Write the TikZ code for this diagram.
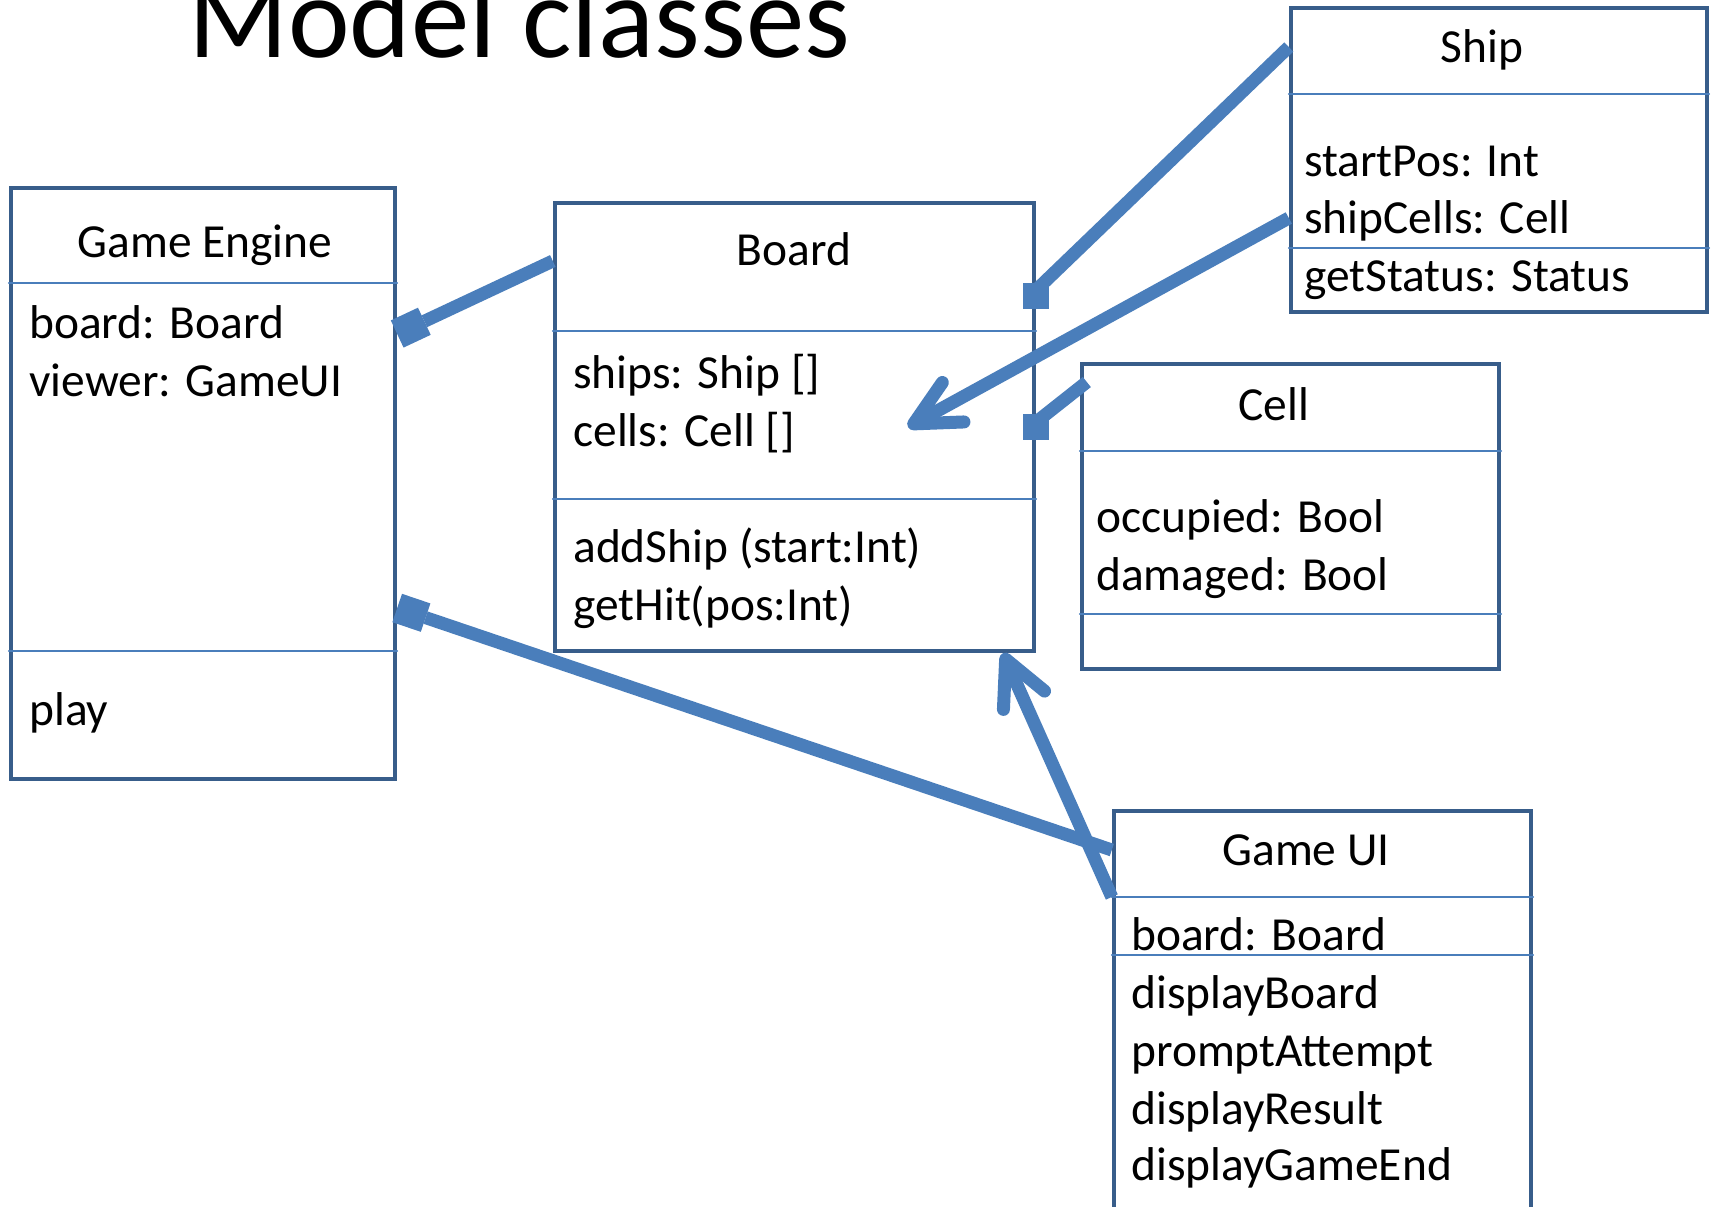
\documentclass[tikz,border=0pt]{standalone}
\usepackage{fontspec}
\setmainfont{Carlito}
\usetikzlibrary{arrows.meta,fit}

\definecolor{boxline}{HTML}{385D8A}
\definecolor{linkblue}{HTML}{4A7EBB}

\begin{document}
\begin{tikzpicture}[x=0.02cm,y=-0.02cm,line cap=round,line join=round,
    umlbox/.style={draw=boxline,line width=2.5pt,inner sep=0pt,line join=miter},
    divider/.style={draw=linkblue,line width=1.1pt},
    head/.style={anchor=base,inner sep=0pt,font=\fontsize{27pt}{33pt}\selectfont},
    member/.style={anchor=base west,inner sep=0pt,font=\fontsize{27pt}{33pt}\selectfont},
    assoc/.style={draw=linkblue,line width=7.4pt,line cap=butt},
    owner/.style={-{Square[length=0.6cm,width=0.6cm,line width=0pt]}},
    uses/.style={-{Straight Barb[length=0.9cm,width=0.9cm,round]}}]
  \clip (0,0) rectangle (1711,1207);

  \node[anchor=base west,inner sep=0pt,font=\fontsize{66.5pt}{80pt}\selectfont] (title) at (188,57) {Model classes};

  % class boxes
  \node[umlbox,fit={(11,188) (395,779)}] (engine) {};
  \node[umlbox,fit={(555,203) (1034,651)}] (board) {};
  \node[umlbox,fit={(1291,8) (1707,312)}] (ship) {};
  \node[umlbox,fit={(1082,364) (1499,669)}] (cell) {};
  \node[umlbox,fit={(1114,811) (1531,1240)}] (gameui) {};

  % compartments
  \draw[divider] (engine.west |- 0,283) -- (engine.east |- 0,283);
  \draw[divider] (engine.west |- 0,651) -- (engine.east |- 0,651);
  \draw[divider] (board.west |- 0,331) -- (board.east |- 0,331);
  \draw[divider] (board.west |- 0,499) -- (board.east |- 0,499);
  \draw[divider] (ship.west |- 0,94) -- (ship.east |- 0,94);
  \draw[divider] (ship.west |- 0,248) -- (ship.east |- 0,248);
  \draw[divider] (cell.west |- 0,451) -- (cell.east |- 0,451);
  \draw[divider] (cell.west |- 0,614) -- (cell.east |- 0,614);
  \draw[divider] (gameui.west |- 0,897) -- (gameui.east |- 0,897);
  \draw[divider] (gameui.west |- 0,955) -- (gameui.east |- 0,955);

  % Game Engine
  \node[head] (engine-t) at (205,257) {Game Engine};
  \node[member] (engine-a1) at (29,338) {board: Board};
  \node[member] (engine-a2) at (29,396) {viewer: GameUI};
  \node[member] (engine-m1) at (29,725) {play};

  % Board
  \node[head] (board-t) at (794,265) {Board};
  \node[member] (board-a1) at (573,388) {ships: Ship []};
  \node[member] (board-a2) at (573,446) {cells: Cell []};
  \node[member] (board-m1) at (573,562) {addShip (start:Int)};
  \node[member] (board-m2) at (573,620) {getHit(pos:Int)};

  % Ship
  \node[head] (ship-t) at (1482,62) {Ship};
  \node[member] (ship-a1) at (1304,176) {startPos: Int};
  \node[member] (ship-a2) at (1304,233) {shipCells: Cell};
  \node[member] (ship-m1) at (1304,291) {getStatus: Status};

  % Cell
  \node[head] (cell-t) at (1274,420) {Cell};
  \node[member] (cell-a1) at (1096,532) {occupied: Bool};
  \node[member] (cell-a2) at (1096,590) {damaged: Bool};

  % Game UI
  \node[head] (gameui-t) at (1306,865) {Game UI};
  \node[member] (gameui-a1) at (1131,950) {board: Board};
  \node[member] (gameui-m1) at (1131,1008) {displayBoard};
  \node[member] (gameui-m2) at (1131,1066) {promptAttempt};
  \node[member] (gameui-m3) at (1131,1124) {displayResult};
  \node[member] (gameui-m4) at (1131,1180) {displayGameEnd};

  % associations
  \coordinate (shipref) at (908,427);
  \draw[assoc,owner] (board.west |- 0,261) -- (engine.east |- 0,334);
  \draw[assoc,owner] (gameui.west |- 0,850) -- (engine.east |- 0,608);
  \draw[assoc] (ship.west |- 0,47) -- (board.east |- 0,290);
  \fill[linkblue] (board.east |- 0,283) ++(-13,0) rectangle ++(26,26);
  \draw[assoc] ([xshift=0.14cm]cell.west |- 0,382) -- (board.east |- 0,422);
  \fill[linkblue] (board.east |- 0,414) ++(-13,0) rectangle ++(26,26);
  \draw[assoc,uses] (ship.west |- 0,218) -- (shipref);
  \draw[assoc,uses] (gameui.west |- 0,897) -- (1003,0 |- board.south);
\end{tikzpicture}
\end{document}
